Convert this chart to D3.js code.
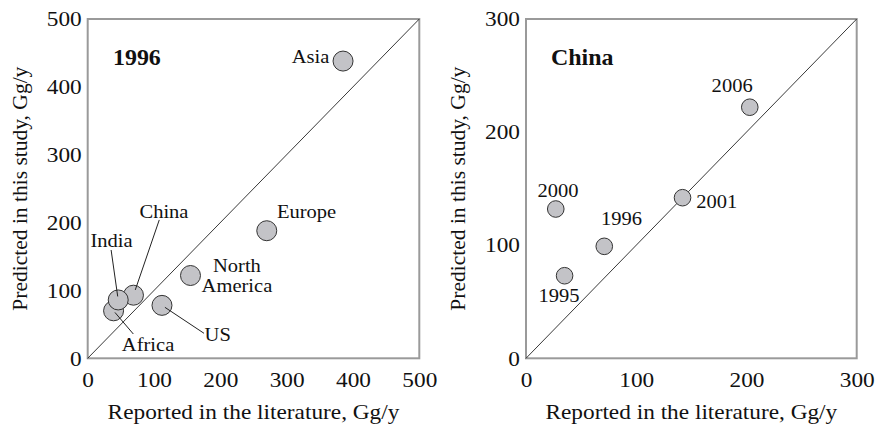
<!DOCTYPE html>
<html>
<head>
<meta charset="utf-8">
<script src="https://cdn.jsdelivr.net/npm/d3@7"></script>
<style>
  body { margin: 0; background: #fff; }
  svg { display: block; }
  text { font-family: "Liberation Serif", "Times New Roman", serif; fill: #111; }
</style>
</head>
<body>
<svg id="chart" width="879" height="428"></svg>
<script>
// ---- Data ----
// Left panel: 1996 regional comparison
const regions = ["Asia", "Europe", "North America", "US", "China", "India", "Africa"];
const regionReported = [385, 270, 155, 112, 69, 46, 39];
const regionPredicted = [438, 188, 122, 78, 93, 86, 70];
// label anchor positions (data units) and leader line far ends (data units)
const regionLabelX = [336, 330, 225, 196, 115, 36, 91];
const regionLabelY = [435, 207, 127, 25.5, 207, 164, 11];
const regionLeaderFromX = [null, null, null, 175.4, 107.9, 35.3, 68.8];
const regionLeaderFromY = [null, null, null, 36.8, 203.9, 159.6, 35.8];

// Right panel: China by year
const years = ["2006", "2001", "2000", "1996", "1995"];
const chinaReported = [203, 142, 27, 71, 35];
const chinaPredicted = [222, 142, 132, 99, 73];
const yearLabelX = [187, 173, 29, 86.6, 30];
const yearLabelY = [235.7, 133, 143, 118, 50];

const leftTicks = [0, 100, 200, 300, 400, 500];
const rightTicks = [0, 100, 200, 300];

const xTitle = "Reported in the literature, Gg/y";
const yTitle = "Predicted in this study, Gg/y";

// ---- Drawing ----
const SX = 1.11; // horizontal stretch of the typeface in the reference
const svg = d3.select("#chart");

function htext(g, x, y, str, size, anchor, bold, sx) {
  return g.append("text")
    .attr("transform", `translate(${x},${y}) scale(${sx || SX},1)`)
    .attr("text-anchor", anchor || "middle")
    .style("font-size", size + "px")
    .style("font-weight", bold ? "bold" : "normal")
    .text(str);
}

function panel(opts) {
  const g = svg.append("g");
  const x = d3.scaleLinear().domain([0, opts.max]).range([opts.x0, opts.x1]);
  const y = d3.scaleLinear().domain([0, opts.max]).range([358.3, 19]);

  const xa = g.append("g").attr("transform", `translate(0,${y(0)})`)
    .call(d3.axisBottom(x).tickValues(opts.ticks).tickSize(0).tickPadding(20));
  xa.select(".domain").remove();
  xa.selectAll("text").style("font-family", '"Liberation Serif", serif')
    .style("font-size", "21px").attr("fill", "#111").attr("dy", "0.4em")
    .attr("transform", `scale(${SX},1)`);

  const ya = g.append("g").attr("transform", `translate(${x(0)},0)`)
    .call(d3.axisLeft(y).tickValues(opts.ticks).tickSize(0).tickPadding(6));
  ya.select(".domain").remove();
  ya.selectAll("text").style("font-family", '"Liberation Serif", serif')
    .style("font-size", "21px").attr("fill", "#111")
    .attr("x", -6 / SX).attr("transform", `scale(${SX},1)`);

  g.append("rect")
    .attr("x", x(0)).attr("y", y(opts.max))
    .attr("width", x(opts.max) - x(0)).attr("height", y(0) - y(opts.max))
    .attr("fill", "none").attr("stroke", "#9a9a9a").attr("stroke-width", 2);

  g.append("line")
    .attr("x1", x(0)).attr("y1", y(0)).attr("x2", x(opts.max)).attr("y2", y(opts.max))
    .attr("stroke", "#222").attr("stroke-width", 0.9);

  htext(g, (x(0) + x(opts.max)) / 2, 419, xTitle, 21, "middle");
  g.append("text")
    .attr("transform", `translate(${opts.yTitleX},${(y(0) + y(opts.max)) / 2}) rotate(-90)`)
    .attr("text-anchor", "middle").attr("dy", "0.35em").style("font-size", "21.5px").text(yTitle);

  htext(g, opts.titleX, 65, opts.title, 23, "start", true, 1.04);

  return { g, x, y };
}

// Left panel
const L = panel({ max: 500, x0: 87.7, x1: 419.3, ticks: leftTicks, yTitleX: 19, title: "1996", titleX: 113 });
const leftData = regions.map((name, i) => ({
  name, rx: regionReported[i], py: regionPredicted[i],
  lx: regionLabelX[i], ly: regionLabelY[i],
  fx: regionLeaderFromX[i], fy: regionLeaderFromY[i]
}));

const order = ["Asia", "Europe", "North America", "US", "Africa", "China", "India"];
L.g.selectAll(".pt").data(order.map(n => leftData.find(d => d.name === n))).join("circle")
  .attr("cx", d => L.x(d.rx)).attr("cy", d => L.y(d.py)).attr("r", 10)
  .attr("fill", "#c3c3c7").attr("stroke", "#333").attr("stroke-width", 1);

L.g.selectAll(".leader").data(leftData.filter(d => d.fx !== null)).join("line")
  .attr("x1", d => L.x(d.fx)).attr("y1", d => L.y(d.fy))
  .attr("x2", d => L.x(d.fx + (d.rx - d.fx) * 0.93)).attr("y2", d => L.y(d.fy + (d.py - d.fy) * 0.93))
  .attr("stroke", "#222").attr("stroke-width", 1);

leftData.forEach(d => {
  const parts = d.name === "North America" ? ["North", "America"] : [d.name];
  parts.forEach((p, k) => htext(L.g, L.x(d.lx), L.y(d.ly) + k * 20, p, 18.5, "middle"));
});

// Right panel
const R = panel({ max: 300, x0: 526, x1: 856.7, ticks: rightTicks, yTitleX: 457, title: "China", titleX: 551 });
const rightData = years.map((yr, i) => ({
  name: yr, rx: chinaReported[i], py: chinaPredicted[i], lx: yearLabelX[i], ly: yearLabelY[i]
}));
R.g.selectAll(".pt").data(rightData).join("circle")
  .attr("cx", d => R.x(d.rx)).attr("cy", d => R.y(d.py)).attr("r", 8.3)
  .attr("fill", "#c3c3c7").attr("stroke", "#333").attr("stroke-width", 1);
rightData.forEach(d => htext(R.g, R.x(d.lx), R.y(d.ly), d.name, 18.5, "middle"));
</script>
</body>
</html>
